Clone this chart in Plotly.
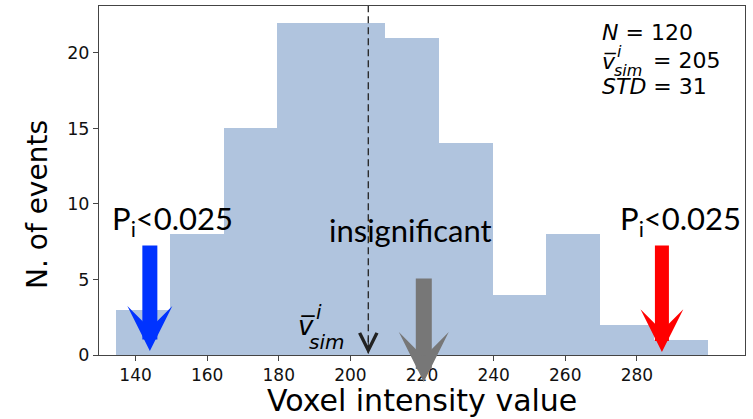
import plotly.graph_objects as go

# ---- data ----
bin_edges = [134.5, 149.5, 164.6, 179.6, 194.6, 209.6, 224.7, 239.7, 254.7, 269.7, 284.8, 299.8]
counts = [3, 8, 15, 22, 22, 21, 14, 4, 8, 2, 1]
x_ticks = [140, 160, 180, 200, 220, 240, 260, 280]
y_ticks = [0, 5, 10, 15, 20]
v_mean = 205
n_events = 120
std_val = 31
arrow_low = 144      # blue arrow value (P_i < 0.025)
arrow_mid = 220.5    # grey arrow value (insignificant)
arrow_high = 287     # red arrow value (P_i < 0.025)

centers = [(a + b) / 2 for a, b in zip(bin_edges[:-1], bin_edges[1:])]
widths = [b - a for a, b in zip(bin_edges[:-1], bin_edges[1:])]

W, H = 753, 419
L, R, T, B = 99, 8, 6, 64
PW, PH = W - L - R, H - T - B

def px(x):
    return (x - L) / PW

def py(y):
    return (H - B - y) / PH

fig = go.Figure()
fig.add_trace(go.Bar(x=centers, y=counts, width=widths,
                     marker=dict(color="#B0C4DE", line=dict(width=0)),
                     hoverinfo="skip"))

DV = "DejaVu Sans"
TXT = "Lato"
ann = []

# axis titles
ann.append(dict(text="Voxel intensity value", xref="paper", yref="paper", x=0.5, y=py(400),
                xanchor="center", yanchor="middle", showarrow=False,
                font=dict(family=DV, size=30, color="black")))
ann.append(dict(text="N. of events", xref="paper", yref="paper", x=px(37), y=py(205),
                xanchor="center", yanchor="middle", showarrow=False, textangle=-90,
                font=dict(family=DV, size=28, color="black")))

# big arrows
for xv, tip, ay, w, s, col in [(arrow_low, 351, -107, 15, 0.5, "#0033ff"),
                                (arrow_mid, 382, -105, 16, 0.52, "#777777"),
                                (arrow_high, 352, -108, 14, 0.51, "#ff0000")]:
    ann.append(dict(text="", x=xv, xref="x", y=py(tip), yref="paper", ax=0, ay=ay,
                    showarrow=True, arrowhead=3, arrowwidth=w, arrowsize=s, arrowcolor=col,
                    standoff=0))

# texts
ann.append(dict(text="P<sub>i</sub>&lt;0.025", xref="paper", yref="paper", x=px(172.5), y=py(220),
                xanchor="center", yanchor="middle", showarrow=False,
                font=dict(family=TXT, size=31, color="black")))
ann.append(dict(text="P<sub>i</sub>&lt;0.025", xref="paper", yref="paper", x=px(680.5), y=py(220),
                xanchor="center", yanchor="middle", showarrow=False,
                font=dict(family=TXT, size=31, color="black")))
ann.append(dict(text="insignificant", xref="paper", yref="paper", x=px(410), y=py(230),
                xanchor="center", yanchor="middle", showarrow=False,
                font=dict(family=TXT, size=31, color="black")))

# mean marker arrow (open chevron)
ann.append(dict(text="", x=v_mean, xref="x", y=py(354), yref="paper", ax=0, ay=-18,
                showarrow=True, arrowhead=5, arrowwidth=1, arrowsize=3.4, arrowcolor="#222",
                standoff=0))

def vbar_label(x0, yc_v, sup_dx, sup_dy, sub_dx, sub_dy, size, ssize):
    out = []
    out.append(dict(text="<i>v\u0305</i>", xref="paper", yref="paper", x=px(x0), y=py(yc_v),
                    xanchor="left", yanchor="middle", showarrow=False,
                    font=dict(family=DV, size=size, color="black")))
    out.append(dict(text="<i>i</i>", xref="paper", yref="paper", x=px(x0 + sup_dx), y=py(yc_v + sup_dy),
                    xanchor="left", yanchor="middle", showarrow=False,
                    font=dict(family=DV, size=ssize, color="black")))
    out.append(dict(text="<i>sim</i>", xref="paper", yref="paper", x=px(x0 + sub_dx), y=py(yc_v + sub_dy),
                    xanchor="left", yanchor="middle", showarrow=False,
                    font=dict(family=DV, size=ssize, color="black")))
    return out

# mean label near bottom
ann += vbar_label(296, 326, 18, -14, 11, 16, 26, 20)

# stats box
SF = 22
ann.append(dict(text=f"<i>N</i> = {n_events}", xref="paper", yref="paper", x=px(600), y=py(33),
                xanchor="left", yanchor="middle", showarrow=False,
                font=dict(family=DV, size=SF, color="black")))
ann += vbar_label(600, 61, 15, -9, 12, 10, SF, 16)
ann.append(dict(text=f"= {v_mean}", xref="paper", yref="paper", x=px(651), y=py(60.5),
                xanchor="left", yanchor="middle", showarrow=False,
                font=dict(family=DV, size=SF, color="black")))
ann.append(dict(text=f"<i>STD</i> = {std_val}", xref="paper", yref="paper", x=px(600), y=py(86),
                xanchor="left", yanchor="middle", showarrow=False,
                font=dict(family=DV, size=SF, color="black")))

fig.update_layout(
    width=W, height=H, margin=dict(l=L, r=R, t=T, b=B),
    paper_bgcolor="white", plot_bgcolor="white",
    showlegend=False, bargap=0,
    annotations=ann,
    shapes=[dict(type="line", xref="x", yref="paper", x0=v_mean, x1=v_mean, y0=0.005, y1=1,
                 line=dict(color="#222", width=1.3, dash="7px,4px"))],
    xaxis=dict(range=[129.8, 310.2], tickvals=x_ticks, ticks="outside", ticklen=5, tickwidth=1,
               tickcolor="#444", showline=True, linecolor="#444", linewidth=1, mirror=True,
               showgrid=False, zeroline=False,
               tickfont=dict(family=DV, size=17, color="#111")),
    yaxis=dict(range=[0, 23.1], tickvals=y_ticks, ticks="outside", ticklen=5, tickwidth=1,
               tickcolor="#444", showline=True, linecolor="#444", linewidth=1, mirror=True,
               showgrid=False, zeroline=False,
               tickfont=dict(family=DV, size=17.5, color="#111")),
)

fig.write_html("out.html", config={"displayModeBar": False},
               post_script="document.body.style.margin='0';document.body.style.overflow='hidden';")
